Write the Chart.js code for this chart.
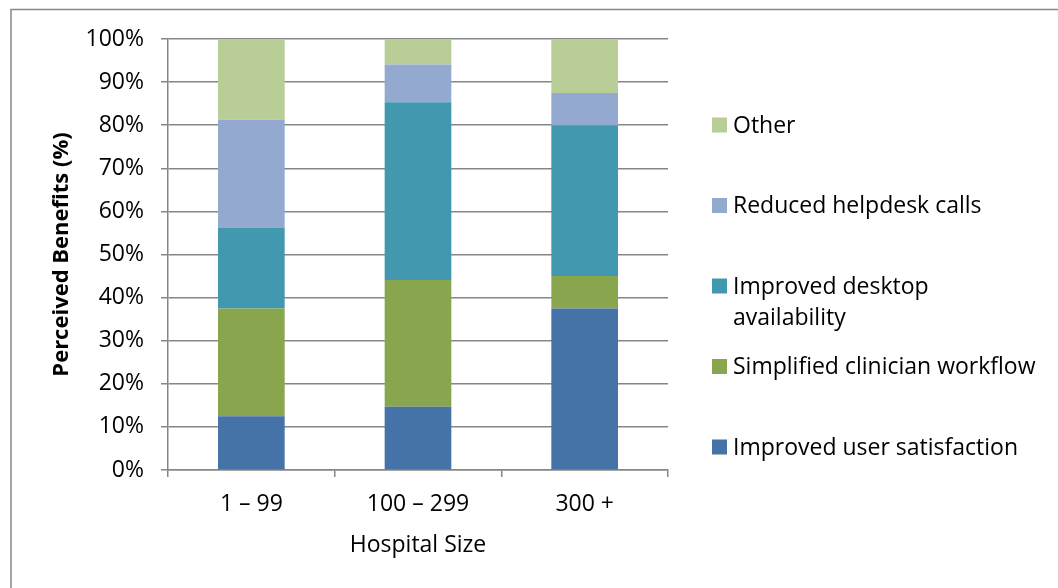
<!DOCTYPE html>
<html>
<head>
<meta charset="utf-8">
<script src="https://cdn.jsdelivr.net/npm/chart.js@4.4.0/dist/chart.umd.min.js"></script>
<style>
  html, body { margin: 0; padding: 0; background: #fff; }
</style>
</head>
<body>
<canvas id="benefitsChart" width="1058" height="588"></canvas>
<script>
// values (percent of respondents per hospital size)
const hospitalSizes = ['1 – 99', '100 – 299', '300 +'];
const userSatisfaction = [12.5, 14.7, 37.5];
const clinicianWorkflow = [25.0, 29.4, 7.5];
const desktopAvailability = [18.75, 41.2, 35.0];
const helpdeskCalls = [25.0, 8.8, 7.5];
const otherBenefits = [18.75, 5.9, 12.5];
const percentTicks = [0, 10, 20, 30, 40, 50, 60, 70, 80, 90, 100];

const FONT = '"Open Sans", "Liberation Sans", sans-serif';
const GRID = '#868686';

// split a legend label into lines that fit maxW
function wrapText(ctx, text, maxW) {
    const words = text.split(' ');
    const lines = [];
    let line = '';
    words.forEach(w => {
        const test = line ? line + ' ' + w : w;
        if (ctx.measureText(test).width > maxW && line) {
            lines.push(line);
            line = w;
        } else {
            line = test;
        }
    });
    if (line) lines.push(line);
    return lines;
}

// white background + the thin frame round the chart
const frame = {
    id: 'frame',
    beforeDraw(chart) {
        const ctx = chart.ctx;
        ctx.save();
        ctx.fillStyle = '#fff';
        ctx.fillRect(0, 0, chart.width, chart.height);
        ctx.strokeStyle = '#888';
        ctx.lineWidth = 1.5;
        ctx.strokeRect(11, 9.5, chart.width + 20, chart.height + 20);
        ctx.restore();
    }
};

// legend on the right, reversed like the stack order
const sideLegend = {
    id: 'sideLegend',
    afterDraw(chart) {
        const ctx = chart.ctx;
        const area = chart.chartArea;
        const boxX = area.right + 44;
        const textX = boxX + 21;
        const maxW = 308;
        ctx.save();
        ctx.font = '23px ' + FONT;
        ctx.textBaseline = 'middle';
        let y = 125;
        chart.data.datasets.slice().reverse().forEach(ds => {
            ctx.fillStyle = ds.backgroundColor;
            ctx.fillRect(boxX, y - 7.5, 15, 15);
            ctx.fillStyle = '#000';
            wrapText(ctx, ds.label, maxW).forEach((ln, i) => {
                ctx.fillText(ln, textX, y + 1 + i * 31);
            });
            y += 80.5;
        });
        ctx.restore();
    }
};

const ctx = document.getElementById('benefitsChart').getContext('2d');

new Chart(ctx, {
    type: 'bar',
    data: {
        labels: hospitalSizes,
        datasets: [
            { label: 'Improved user satisfaction', data: userSatisfaction, backgroundColor: '#4572A7' },
            { label: 'Simplified clinician workflow', data: clinicianWorkflow, backgroundColor: '#89A54E' },
            { label: 'Improved desktop availability', data: desktopAvailability, backgroundColor: '#4198AF' },
            { label: 'Reduced helpdesk calls', data: helpdeskCalls, backgroundColor: '#93A9CF' },
            { label: 'Other', data: otherBenefits, backgroundColor: '#B9CD96' }
        ]
    },
    options: {
        responsive: false,
        animation: false,
        layout: {
            padding: { top: 39, right: 390, bottom: 0, left: 0 }
        },
        datasets: {
            bar: { barPercentage: 0.4, categoryPercentage: 1.0, borderWidth: 0 }
        },
        plugins: {
            legend: { display: false },
            tooltip: { enabled: false }
        },
        scales: {
            x: {
                stacked: true,
                afterFit: scale => { scale.height = 118; },
                grid: {
                    offset: true,
                    drawOnChartArea: false,
                    drawTicks: true,
                    tickLength: 7,
                    color: GRID,
                    lineWidth: 1.5
                },
                border: { display: true, color: GRID, width: 1.5 },
                ticks: {
                    color: '#000',
                    padding: 14,
                    font: { family: FONT, size: 23 }
                },
                title: {
                    display: true,
                    text: 'Hospital Size',
                    color: '#000',
                    font: { family: FONT, size: 23 },
                    padding: { top: 0, bottom: 29 }
                }
            },
            y: {
                stacked: true,
                min: 0,
                max: 100,
                afterFit: scale => { scale.width = 168; },
                afterBuildTicks: scale => {
                    scale.ticks = percentTicks.map(v => ({ value: v }));
                },
                grid: {
                    color: GRID,
                    lineWidth: 1.5,
                    drawTicks: true,
                    tickLength: 7
                },
                border: { display: true, color: GRID, width: 1.5 },
                ticks: {
                    color: '#000',
                    padding: 17,
                    font: { family: FONT, size: 23 },
                    callback: v => v + '%'
                },
                title: {
                    display: true,
                    text: 'Perceived Benefits (%)',
                    color: '#000',
                    font: { family: FONT, size: 22, weight: 'bold' },
                    padding: { top: 49, bottom: 0 }
                }
            }
        }
    },
    plugins: [frame, sideLegend]
});
</script>
</body>
</html>
